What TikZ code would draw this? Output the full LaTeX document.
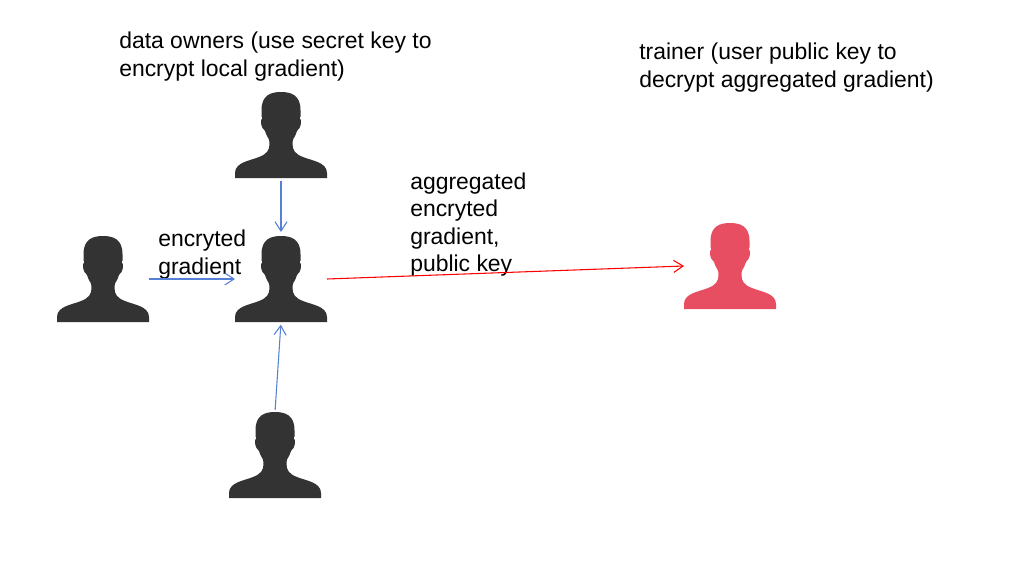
\documentclass[tikz,border=0pt]{standalone}
\usepackage{fontspec}
\setmainfont{Liberation Sans}
\usepackage{xcolor}
\usetikzlibrary{arrows.meta, positioning}
\definecolor{ownerdark}{RGB}{51,51,51}
\definecolor{trainerred}{RGB}{232,78,98}
\definecolor{flowblue}{RGB}{85,128,214}
\definecolor{flowred}{RGB}{255,0,0}

\begin{document}
\begin{tikzpicture}[
  x=0.75pt, y=-0.75pt,
  font=\fontsize{17.2}{20.6}\selectfont,
  slot/.style={minimum width=69pt, minimum height=64.5pt, inner sep=0pt, outer sep=0pt},
  caption/.style={anchor=north west, align=left, inner sep=0pt},
  flow/.style={line width=0.8pt, draw=flowblue, -{Straight Barb[length=7pt, width=9pt]}},
  relay/.style={flow, draw=flowred},
  person/.pic={
    \fill (0,-43) .. controls (10,-43) and (19.5,-40) .. (19.5,-25)
      -- (19.5,-18.5) -- (18.7,-17) .. controls (20.5,-15) and (20.5,-11) .. (18.5,-7)
      .. controls (16.5,-6) and (15.5,-3) .. (14.5,0)
      .. controls (12.5,3) and (11.5,5) .. (11.5,9)
      .. controls (11.5,15) and (14,19) .. (22,22)
      .. controls (30,25.5) and (46,27) .. (46,38)
      -- (46,43) -- (-46,43) -- (-46,38)
      .. controls (-46,27) and (-30,25.5) .. (-22,22)
      .. controls (-14,19) and (-11.5,15) .. (-11.5,9)
      .. controls (-11.5,5) and (-12.5,3) .. (-14.5,0)
      .. controls (-15.5,-3) and (-16.5,-6) .. (-18.5,-7)
      .. controls (-20.5,-11) and (-20.5,-15) .. (-18.7,-17)
      -- (-19.5,-18.5) -- (-19.5,-25) .. controls (-19.5,-40) and (-10,-43) .. (0,-43) -- cycle;
  }
]
  \useasboundingbox (0,0) rectangle (1009,564);

  \node[slot] (top) at (281,135) {};
  \node[slot] (hub) at (281,279) {};
  \node[slot] (left) at (103,279) {};
  \node[slot] (bottom) at (275,455) {};
  \node[slot] (trainer) at (730,266) {};
  \foreach \who in {top,hub,left,bottom} {
    \pic[ownerdark] at (\who) {person};
  }
  \pic[trainerred] at (trainer) {person};

  \node[caption] (ownerlab) at (119,31.7) {data owners (use secret key to\\encrypt local gradient)};
  \node[caption] (trainerlab) at (639,42.7) {trainer (user public key to\\decrypt aggregated gradient)};
  \node[caption] (gradlab) at (158,229.7) {encryted\\gradient};
  \node[caption] (aggrlab) at (410,172.5) {aggregated\\encryted\\gradient,\\public key};

  \draw[flow, shorten <=2pt, shorten >=3pt] (top.south) -- (hub.north);
  \draw[flow] (left.east) -- (hub.west);
  \draw[flow, shorten <=1.5pt, shorten >=2pt] (bottom.north) -- (hub.south);
  \draw[relay] (hub.east) -- (trainer.west);
\end{tikzpicture}
\end{document}
